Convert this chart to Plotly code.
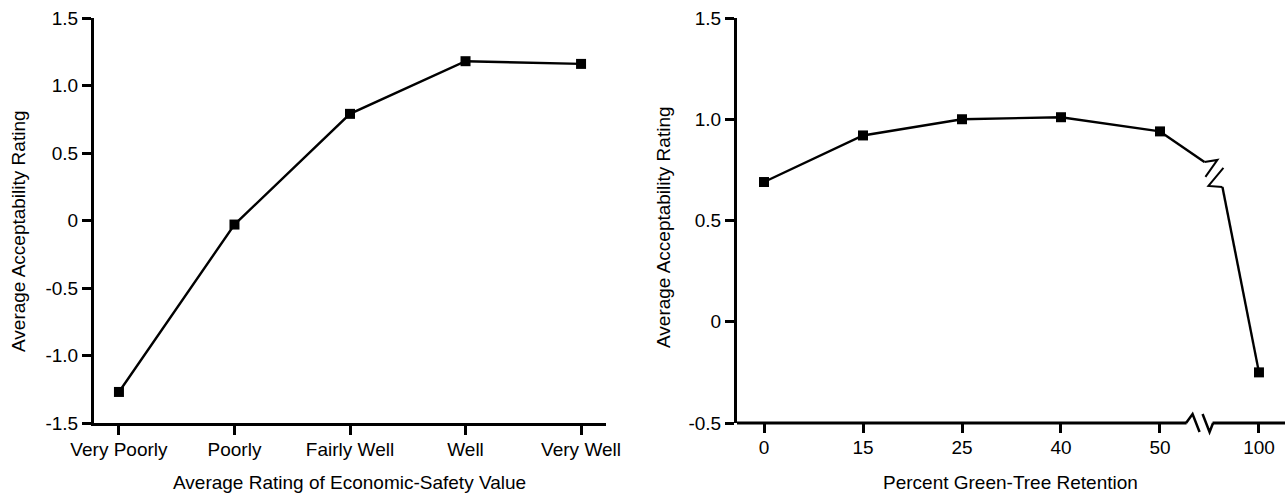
import plotly.graph_objects as go

W, H = 1285, 494

# ---------------- data ----------------
econ_categories = ["Very Poorly", "Poorly", "Fairly Well", "Well", "Very Well"]
econ_ratings = [-1.27, -0.03, 0.79, 1.18, 1.16]

retention_labels = ["0", "15", "25", "40", "50", "100"]
retention_ratings = [0.69, 0.92, 1.00, 1.01, 0.94, -0.25]

left_yticks = [-1.5, -1.0, -0.5, 0, 0.5, 1.0, 1.5]
left_yticktext = ["-1.5", "-1.0", "-0.5", "0", "0.5", "1.0", "1.5"]
right_yticks = [-0.5, 0, 0.5, 1.0, 1.5]
right_yticktext = ["-0.5", "0", "0.5", "1.0", "1.5"]

# ---------------- layout geometry (pixels) ----------------
FONT = "Liberation Sans, Arial, Helvetica, sans-serif"
FS = 19
PLOT_TOP, PLOT_BOTTOM = 18, 423
L_X0, L_X1 = 94, 606
R_X0, R_X1 = 737, 1285
L_RANGE = [-0.216, 4.216]
R_RANGE = [-0.273, 5.263]
R_YRANGE = [-0.5, 1.5]

px_per_x2 = (R_X1 - R_X0) / (R_RANGE[1] - R_RANGE[0])
px_per_y2 = (PLOT_BOTTOM - PLOT_TOP) / (R_YRANGE[1] - R_YRANGE[0])

ydom = [(H - PLOT_BOTTOM) / H, (H - PLOT_TOP) / H]

LINE_W = 2.4
MARK = dict(symbol="square", size=10, color="black")

fig = go.Figure()

# left panel
fig.add_trace(go.Scatter(
    x=list(range(len(econ_categories))), y=econ_ratings,
    mode="lines+markers", line=dict(color="black", width=LINE_W),
    marker=MARK, xaxis="x", yaxis="y", showlegend=False, hoverinfo="skip"))

# right panel: continuous part (0..50)
n = len(retention_labels)
xs = list(range(n))
fig.add_trace(go.Scatter(
    x=xs[:-1], y=retention_ratings[:-1],
    mode="lines", line=dict(color="black", width=LINE_W),
    xaxis="x2", yaxis="y2", showlegend=False, hoverinfo="skip"))

# broken segment between 50 and 100 (break symbol drawn as shape)
BRK_X, BRK_Y = 4.54, 0.73           # centre of the line-break glyph (data units)
brk_left = (-9, 12)                 # pixel offsets of glyph ends
brk_right = (9, -13)
ax_ = BRK_X + brk_left[0] / px_per_x2
ay_ = BRK_Y + brk_left[1] / px_per_y2
bx_ = BRK_X + brk_right[0] / px_per_x2
by_ = BRK_Y + brk_right[1] / px_per_y2
fig.add_trace(go.Scatter(
    x=[xs[-2], ax_, None, bx_, xs[-1]],
    y=[retention_ratings[-2], ay_, None, by_, retention_ratings[-1]],
    mode="lines", line=dict(color="black", width=LINE_W),
    xaxis="x2", yaxis="y2", showlegend=False, hoverinfo="skip"))
fig.add_trace(go.Scatter(
    x=xs, y=retention_ratings, mode="markers", marker=MARK,
    xaxis="x2", yaxis="y2", showlegend=False, hoverinfo="skip"))

axis_common = dict(
    showgrid=False, zeroline=False, showline=True, linecolor="black",
    linewidth=3, ticks="outside", ticklen=9, tickwidth=2.5, tickcolor="black",
    tickfont=dict(family=FONT, size=FS, color="black"), fixedrange=True,
    automargin=False)

fig.update_layout(
    width=W, height=H, margin=dict(l=0, r=0, t=0, b=0, autoexpand=False),
    paper_bgcolor="white", plot_bgcolor="white",
    font=dict(family=FONT, size=FS, color="black"),
    xaxis=dict(axis_common, domain=[L_X0 / W, L_X1 / W], range=L_RANGE,
               tickmode="array", tickvals=list(range(len(econ_categories))),
               ticktext=econ_categories, anchor="y", ticklabelstandoff=-2),
    yaxis=dict(axis_common, domain=ydom, range=[-1.5, 1.5],
               tickmode="array", tickvals=left_yticks, ticktext=left_yticktext,
               anchor="x"),
    xaxis2=dict(axis_common, domain=[R_X0 / W, R_X1 / W], range=R_RANGE,
                showline=False, ticklabelstandoff=-2,
                tickmode="array", tickvals=xs, ticktext=retention_labels,
                anchor="y2"),
    yaxis2=dict(axis_common, domain=ydom, range=R_YRANGE,
                tickmode="array", tickvals=right_yticks, ticktext=right_yticktext,
                anchor="x2"),
)

# right x-axis line with a break (yref paper so it is not clipped vertically)
AX_BRK = 4.4
half = 13 / px_per_x2
for x0, x1 in [(R_RANGE[0], AX_BRK - half), (AX_BRK + half, R_RANGE[1])]:
    fig.add_shape(type="line", xref="x2", yref="paper", x0=x0, x1=x1,
                  y0=ydom[0], y1=ydom[0],
                  line=dict(color="black", width=3), layer="above")
fig.add_shape(type="path", xref="x2", yref="paper", xsizemode="pixel",
              ysizemode="pixel", xanchor=AX_BRK, yanchor=ydom[0],
              path="M -13.5,0 L -7,9 L 0,-9 M 3,9 L 10,-9 L 13.5,0",
              line=dict(color="black", width=2.5), layer="above")
# break glyph on the data line
fig.add_shape(type="path", xref="x2", yref="y2", xsizemode="pixel",
              ysizemode="pixel", xanchor=BRK_X, yanchor=BRK_Y,
              path="M -9,12 L 4,14 L -8,-3 M 10,6 L -5,-12 L 9,-13",
              line=dict(color="black", width=2), layer="above")

# axis titles
ann = dict(showarrow=False, xref="paper", yref="paper",
           font=dict(family=FONT, size=FS, color="black"))
fig.add_annotation(ann, text="Average Acceptability Rating", textangle=-90,
                   x=18 / W, y=1 - 231 / H, xanchor="center", yanchor="middle")
fig.add_annotation(ann, text="Average Acceptability Rating", textangle=-90,
                   x=663 / W, y=1 - 227 / H, xanchor="center", yanchor="middle")
fig.add_annotation(ann, text="Average Rating of Economic-Safety Value",
                   x=350 / W, y=1 - 482 / H, xanchor="center", yanchor="middle")
fig.add_annotation(ann, text="Percent Green-Tree Retention",
                   x=1010 / W, y=1 - 482 / H, xanchor="center", yanchor="middle")

fig.write_html("out.html", config={"displayModeBar": False},
               post_script="document.body.style.margin='0';"
                           "document.body.style.overflow='hidden';")
